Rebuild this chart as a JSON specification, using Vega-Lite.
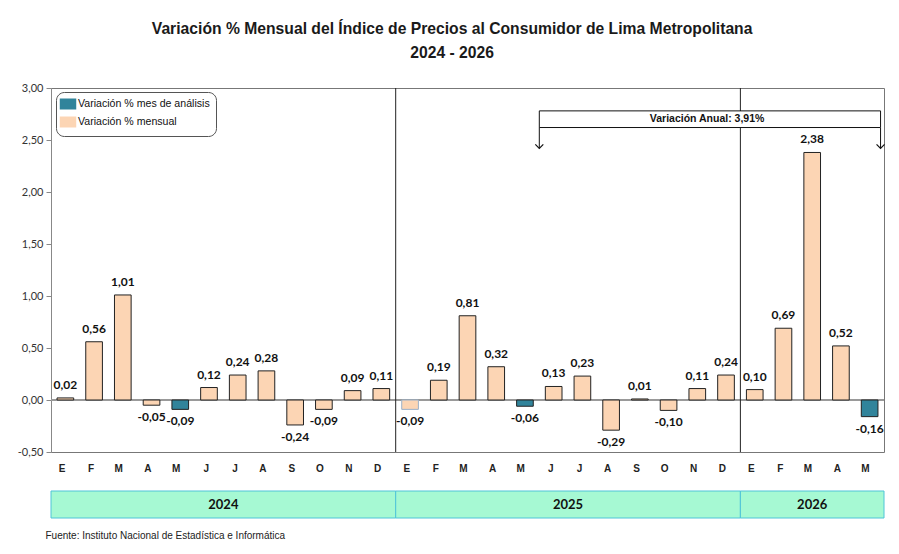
{
  "$schema": "https://vega.github.io/schema/vega-lite/v6.json",
  "padding": {"left": 16, "top": 20, "right": 10, "bottom": 5},
  "background": "white",
  "config": {
    "locale": {"number": {"decimal": ",", "thousands": ".", "grouping": [3], "currency": ["", ""], "minus": "-"}},
    "concat": {"spacing": 16}
  },
  "title": {
    "text": ["Variación % Mensual del Índice de Precios al Consumidor de Lima Metropolitana", "2024 - 2026"],
    "font": "Liberation Sans, sans-serif",
    "fontSize": 15.7, "fontWeight": "bold", "color": "#1a1a1a", "lineHeight": 24, "anchor": "middle", "offset": 20
  },
  "datasets": {
    "meses": [
      {"id": "2024-01-E", "anio": 2024, "mes": "E", "v": 0.02, "tipo": "Variación % mensual"},
      {"id": "2024-02-F", "anio": 2024, "mes": "F", "v": 0.56, "tipo": "Variación % mensual"},
      {"id": "2024-03-M", "anio": 2024, "mes": "M", "v": 1.01, "tipo": "Variación % mensual"},
      {"id": "2024-04-A", "anio": 2024, "mes": "A", "v": -0.05, "tipo": "Variación % mensual"},
      {"id": "2024-05-M", "anio": 2024, "mes": "M", "v": -0.09, "tipo": "Variación % mes de análisis"},
      {"id": "2024-06-J", "anio": 2024, "mes": "J", "v": 0.12, "tipo": "Variación % mensual"},
      {"id": "2024-07-J", "anio": 2024, "mes": "J", "v": 0.24, "tipo": "Variación % mensual"},
      {"id": "2024-08-A", "anio": 2024, "mes": "A", "v": 0.28, "tipo": "Variación % mensual"},
      {"id": "2024-09-S", "anio": 2024, "mes": "S", "v": -0.24, "tipo": "Variación % mensual"},
      {"id": "2024-10-O", "anio": 2024, "mes": "O", "v": -0.09, "tipo": "Variación % mensual"},
      {"id": "2024-11-N", "anio": 2024, "mes": "N", "v": 0.09, "tipo": "Variación % mensual"},
      {"id": "2024-12-D", "anio": 2024, "mes": "D", "v": 0.11, "tipo": "Variación % mensual"},
      {"id": "2025-01-E", "anio": 2025, "mes": "E", "v": -0.09, "tipo": "Variación % mensual"},
      {"id": "2025-02-F", "anio": 2025, "mes": "F", "v": 0.19, "tipo": "Variación % mensual"},
      {"id": "2025-03-M", "anio": 2025, "mes": "M", "v": 0.81, "tipo": "Variación % mensual"},
      {"id": "2025-04-A", "anio": 2025, "mes": "A", "v": 0.32, "tipo": "Variación % mensual"},
      {"id": "2025-05-M", "anio": 2025, "mes": "M", "v": -0.06, "tipo": "Variación % mes de análisis"},
      {"id": "2025-06-J", "anio": 2025, "mes": "J", "v": 0.13, "tipo": "Variación % mensual"},
      {"id": "2025-07-J", "anio": 2025, "mes": "J", "v": 0.23, "tipo": "Variación % mensual"},
      {"id": "2025-08-A", "anio": 2025, "mes": "A", "v": -0.29, "tipo": "Variación % mensual"},
      {"id": "2025-09-S", "anio": 2025, "mes": "S", "v": 0.01, "tipo": "Variación % mensual"},
      {"id": "2025-10-O", "anio": 2025, "mes": "O", "v": -0.10, "tipo": "Variación % mensual"},
      {"id": "2025-11-N", "anio": 2025, "mes": "N", "v": 0.11, "tipo": "Variación % mensual"},
      {"id": "2025-12-D", "anio": 2025, "mes": "D", "v": 0.24, "tipo": "Variación % mensual"},
      {"id": "2026-01-E", "anio": 2026, "mes": "E", "v": 0.10, "tipo": "Variación % mensual"},
      {"id": "2026-02-F", "anio": 2026, "mes": "F", "v": 0.69, "tipo": "Variación % mensual"},
      {"id": "2026-03-M", "anio": 2026, "mes": "M", "v": 2.38, "tipo": "Variación % mensual"},
      {"id": "2026-04-A", "anio": 2026, "mes": "A", "v": 0.52, "tipo": "Variación % mensual"},
      {"id": "2026-05-M", "anio": 2026, "mes": "M", "v": -0.16, "tipo": "Variación % mes de análisis"}
    ],
    "anual": [
      {"desde": "2025-06-J", "hasta": "2026-05-M", "centro": "2025-11-N", "texto": "Variación Anual: 3,91%"}
    ],
    "anios": [
      {"anio": "2024", "inicio": 0, "fin": 12},
      {"anio": "2025", "inicio": 12, "fin": 24},
      {"anio": "2026", "inicio": 24, "fin": 29}
    ]
  },
  "vconcat": [
    {
      "width": 833,
      "height": 364,
      "view": {"stroke": "#777"},
      "layer": [
        {
          "data": {"name": "meses"},
          "mark": {"type": "rule", "color": "#999", "strokeWidth": 1},
          "encoding": {"y": {"datum": 0, "type": "quantitative"}}
        },
        {
          "data": {"name": "meses"},
          "transform": [{"filter": "datum.mes === 'E' && datum.anio > 2024"}],
          "mark": {"type": "rule", "color": "#222", "strokeWidth": 1},
          "encoding": {"x": {"field": "id", "type": "nominal", "bandPosition": 0}}
        },
        {
          "data": {"name": "meses"},
          "mark": {"type": "bar", "width": {"band": 0.58}, "strokeWidth": 1},
          "encoding": {
            "x": {
              "field": "id", "type": "nominal", "sort": null,
              "scale": {"paddingInner": 0, "paddingOuter": 0},
              "axis": {"title": null, "labelExpr": "split(datum.value, '-')[2]", "labelAngle": 0, "ticks": false, "domain": false,
                       "labelFont": "Liberation Sans", "labelFontWeight": "bold", "labelFontSize": 10, "labelColor": "#222", "labelPadding": 16}
            },
            "y": {
              "field": "v", "type": "quantitative",
              "scale": {"domain": [-0.5, 3], "nice": false},
              "axis": {"title": null, "values": [-0.5, 0, 0.5, 1, 1.5, 2, 2.5, 3], "format": ".2f", "grid": false,
                       "domainColor": "#888", "tickColor": "#888", "tickSize": 5, "labelFont": "Lato", "labelFontSize": 11,
                       "labelColor": "#333", "labelPadding": 3}
            },
            "color": {
              "field": "tipo", "type": "nominal",
              "scale": {"domain": ["Variación % mes de análisis", "Variación % mensual"], "range": ["#31849B", "#FCD5B4"]},
              "legend": {
                "orient": "none", "legendX": 5, "legendY": 4, "title": null,
                "strokeColor": "#555", "cornerRadius": 8, "padding": 6, "fillColor": "white",
                "labelFont": "Liberation Sans, sans-serif", "labelFontSize": 10.6, "labelColor": "#111", "labelLimit": 250,
                "symbolType": "M-1.5,-1H1.5V1H-1.5Z", "symbolSize": 121, "symbolStrokeColor": "#333", "symbolStrokeWidth": 1, "symbolOpacity": 1,
                "rowPadding": 2,
                "encode": {"symbols": {"update": {"fill": {"signal": "datum.value === 'Variación % mensual' ? '#F4C6CA' : '#31849B'"}}}}
              }
            },
            "stroke": {"condition": {"test": "datum.id === '2025-01-E'", "value": "#9AB0C8"}, "value": "#222"}
          }
        },
        {
          "data": {"name": "meses"},
          "transform": [{"filter": "datum.v >= 0"}],
          "mark": {"type": "text", "baseline": "middle", "dy": -13, "font": "Lato", "fontWeight": "bold", "fontSize": 12, "color": "#111"},
          "encoding": {
            "x": {"field": "id", "type": "nominal"},
            "y": {"field": "v", "type": "quantitative"},
            "text": {"field": "v", "type": "quantitative", "format": ".2f"}
          }
        },
        {
          "data": {"name": "meses"},
          "transform": [{"filter": "datum.v < 0"}],
          "mark": {"type": "text", "baseline": "middle", "dy": 12, "font": "Lato", "fontWeight": "bold", "fontSize": 12, "color": "#111"},
          "encoding": {
            "x": {"field": "id", "type": "nominal"},
            "y": {"field": "v", "type": "quantitative"},
            "text": {"field": "v", "type": "quantitative", "format": ".2f"}
          }
        },
        {
          "data": {"name": "anual"},
          "mark": {"type": "rule", "color": "#111", "strokeWidth": 1},
          "encoding": {
            "x": {"field": "desde", "type": "nominal", "bandPosition": 0},
            "y": {"datum": 2.62, "type": "quantitative"},
            "y2": {"datum": 2.42}
          }
        },
        {
          "data": {"name": "anual"},
          "mark": {"type": "rule", "color": "#111", "strokeWidth": 1},
          "encoding": {
            "x": {"field": "hasta", "type": "nominal", "bandPosition": 0.88},
            "y": {"datum": 2.62, "type": "quantitative"},
            "y2": {"datum": 2.42}
          }
        },
        {
          "data": {"name": "anual"},
          "mark": {"type": "point", "shape": "M-1,-1L0,0L1,-1", "filled": false, "stroke": "#111", "strokeWidth": 1.2, "size": 64, "opacity": 1},
          "encoding": {
            "x": {"field": "desde", "type": "nominal", "bandPosition": 0},
            "y": {"datum": 2.42, "type": "quantitative"}
          }
        },
        {
          "data": {"name": "anual"},
          "mark": {"type": "point", "shape": "M-1,-1L0,0L1,-1", "filled": false, "stroke": "#111", "strokeWidth": 1.2, "size": 64, "opacity": 1},
          "encoding": {
            "x": {"field": "hasta", "type": "nominal", "bandPosition": 0.88},
            "y": {"datum": 2.42, "type": "quantitative"}
          }
        },
        {
          "data": {"name": "anual"},
          "mark": {"type": "rect", "fill": "white", "stroke": "#111", "strokeWidth": 1},
          "encoding": {
            "x": {"field": "desde", "type": "nominal", "bandPosition": 0},
            "x2": {"field": "hasta", "bandPosition": 0.88},
            "y": {"datum": 2.78, "type": "quantitative"},
            "y2": {"datum": 2.62}
          }
        },
        {
          "data": {"name": "anual"},
          "mark": {"type": "text", "font": "Liberation Sans, sans-serif", "fontWeight": "bold", "fontSize": 10.5, "color": "#111", "baseline": "middle"},
          "encoding": {
            "x": {"field": "centro", "type": "nominal", "bandPosition": 0.84},
            "y": {"datum": 2.70, "type": "quantitative"},
            "text": {"field": "texto"}
          }
        }
      ]
    },
    {
      "width": 833,
      "height": 27,
      "data": {"name": "anios"},
      "view": {"stroke": null},
      "title": {"text": "Fuente: Instituto  Nacional de Estadística  e Informática", "orient": "bottom", "anchor": "start",
                "font": "Liberation Sans, sans-serif", "fontSize": 10, "fontWeight": "normal",
                "color": "#222", "offset": 12, "dx": -5},
      "layer": [
        {
          "mark": {"type": "rect", "fill": "#A6F9D3", "stroke": "#4FC4D8", "strokeWidth": 1},
          "encoding": {
            "x": {"field": "inicio", "type": "quantitative", "scale": {"domain": [0, 29], "nice": false, "zero": false}, "axis": null},
            "x2": {"field": "fin"}
          }
        },
        {
          "transform": [{"calculate": "(datum.inicio + datum.fin) / 2", "as": "medio"}],
          "mark": {"type": "text", "font": "Lato", "fontWeight": "bold", "fontSize": 13, "color": "#111", "baseline": "middle"},
          "encoding": {
            "x": {"field": "medio", "type": "quantitative"},
            "text": {"field": "anio"}
          }
        }
      ]
    }
  ]
}
